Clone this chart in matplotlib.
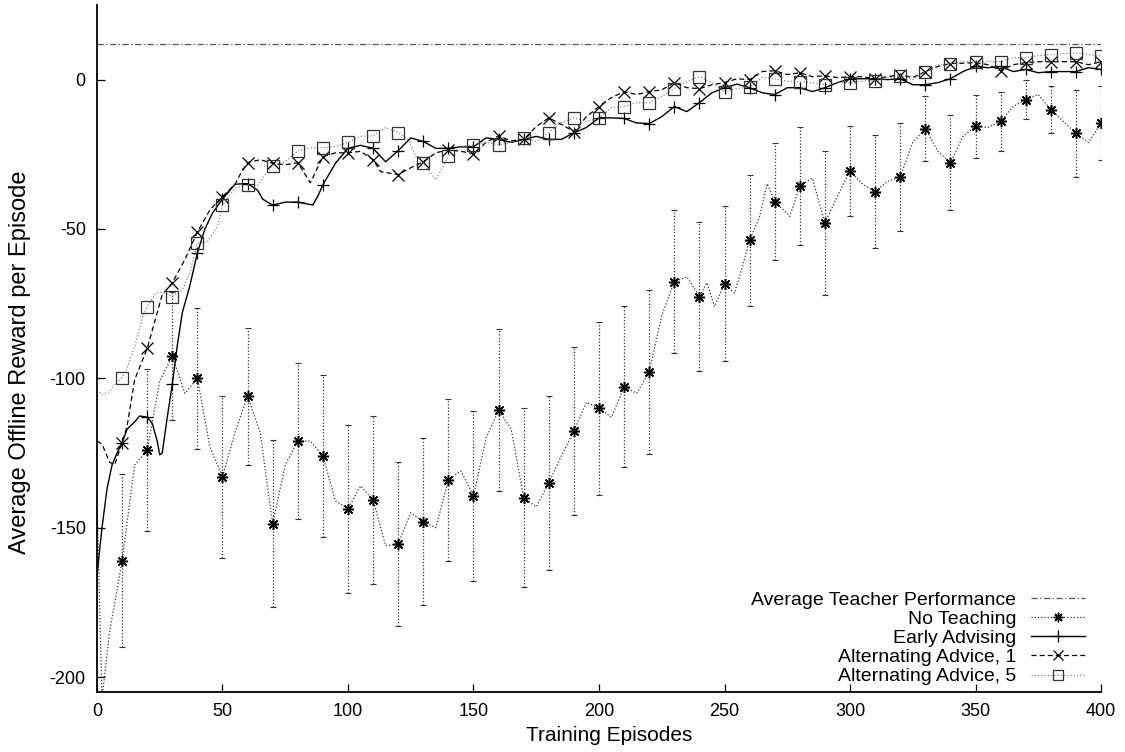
import matplotlib
matplotlib.use("Agg")
import matplotlib.pyplot as plt
import numpy as np

plt.rcParams['font.family'] = ['Liberation Sans', 'DejaVu Sans']
plt.rcParams['axes.unicode_minus'] = False

teacher_level = 12

# No Teaching (mean and std at marker points)
nt_x = [0, 2, 5, 10, 15, 20, 25, 30, 35, 40, 45, 50, 55, 60, 65, 70, 75, 80, 85, 90,
        95, 100, 105, 110, 115, 120, 125, 130, 135, 140, 145, 150, 155, 160, 165, 170,
        175, 180, 185, 190, 195, 200, 205, 210, 215, 220, 225, 230, 235, 240, 243, 246,
        250, 254, 257, 260, 264, 267, 270, 274, 276, 280, 285, 290, 295, 300, 305, 310,
        315, 320, 325, 330, 335, 340, 345, 350, 355, 360, 365, 370, 375, 380, 385, 390,
        395, 400]
nt_y = [-140, -207, -185, -161, -129, -124, -101, -92.5, -105, -100, -123, -133, -118, -106,
        -118, -148.7, -129, -121, -121, -126, -141, -143.7, -136, -140.7, -156, -155.4, -145,
        -148, -150, -134, -131, -139.4, -120, -110.6, -117, -140, -143, -135, -126, -117.6,
        -108, -110, -113, -102.8, -105, -97.8, -79, -67.6, -66, -72.6, -68, -76, -68.3, -71.5,
        -63, -53.8, -45.8, -34.8, -40.8, -44, -45.8, -35.5, -33, -48, -39, -30.5, -35, -37.5,
        -34, -32.6, -21, -16.4, -24, -27.8, -19, -15.6, -16, -14, -9, -6.7, -5, -10, -14, -18,
        -21, -14.5]
nt_err_x = list(range(10, 401, 10))
nt_err = [29, 27, 21.5, 23.5, 27, 23, 28, 26, 27, 28, 28, 27.5, 28, 27, 28.5, 27, 30, 29, 28, 29,
          27, 27.5, 24, 25, 26, 22, 19.5, 19.7, 24, 15, 19, 18, 11, 16, 10.5, 10, 6.5, 8, 14.5, 12.5]

# Early Advising
ea_x = [0, 2, 4, 6, 8, 10, 12, 15, 17, 20, 22, 24, 25, 26, 28, 30, 32, 34, 37, 40, 43, 46, 50,
        55, 60, 64, 66, 70, 75, 80, 86, 88, 90, 95, 100, 105, 110, 115, 120, 125, 130, 135, 140,
        145, 150, 155, 160, 165, 170, 175, 180, 185, 190, 195, 200, 205, 210, 215, 220, 225, 230,
        235, 240, 245, 250, 255, 260, 265, 270, 275, 280, 285, 290, 295, 300, 305, 310, 315, 320,
        325, 330, 335, 340, 345, 350, 355, 360, 365, 370, 375, 380, 385, 390, 395, 400]
ea_y = [-166, -150, -137, -129, -125, -121.6, -117, -114.6, -112.6, -113, -115, -121, -125.6,
        -125, -113, -102, -89, -78, -69, -58, -50, -44.7, -40, -35, -34.8, -37, -40, -42, -41,
        -41, -42, -39, -35.2, -28, -23, -22, -23, -27.5, -23.8, -19.5, -20.7, -23, -23, -22.5,
        -22.5, -19.5, -20, -21, -20, -19, -20, -20, -17.8, -16, -12.8, -12.8, -13, -14.5, -14.7,
        -12.4, -9, -10.7, -7.7, -4.4, -2.7, -1.5, -2.7, -4.4, -5, -2.7, -2.7, -4, -2.7, -1, 0.3,
        0.3, 0.3, 0, 0.3, -1.7, -1.7, -1, 0.3, 2.7, 4.4, 4, 4.4, 2.7, 3.4, 2.3, 2.7, 2.7, 2.7, 4,
        3.4]

# Alternating Advice, 1
a1_x = [0, 2, 5, 7, 10, 12, 15, 20, 24, 26, 30, 35, 40, 45, 50, 55, 57, 60, 65, 70, 75, 80, 85,
        90, 95, 100, 105, 110, 113, 120, 125, 130, 135, 140, 145, 150, 155, 160, 165, 170, 175,
        180, 185, 190, 195, 200, 205, 210, 215, 220, 225, 230, 235, 240, 245, 250, 255, 260, 265,
        270, 275, 280, 285, 290, 295, 300, 305, 310, 315, 320, 325, 330, 335, 340, 345, 350, 355,
        360, 365, 370, 375, 380, 385, 390, 395, 400]
a1_y = [-121, -122, -128, -129, -121.6, -116, -100.5, -90, -78, -72, -68, -60.3, -51, -43.6,
        -39.2, -35, -31.8, -27.8, -26.8, -28, -28.5, -27.8, -34.5, -25.8, -24.5, -24.5, -24,
        -26.8, -30.8, -31.8, -29.5, -27.5, -24.5, -23.5, -24, -24.8, -21, -18.8, -20.5, -20,
        -15.7, -12.8, -15, -17.4, -12.4, -9, -6, -4, -5, -4, -3.4, -1, -2.7, -3, -1.7, -1, 0.3,
        0, 2.7, 3, 1.7, 2.3, 1, 1.3, 0.7, 1, 1, 0.3, 1, 1.7, 0.7, 2.7, 4.4, 5.4, 5.5, 5.7, 5, 3,
        5, 5.7, 6, 6, 6, 6, 5, 6]

# Alternating Advice, 5
a5_x = [0, 2, 5, 7, 10, 12, 15, 18, 20, 23, 25, 27, 30, 34, 37, 40, 44, 48, 50, 55, 60, 64, 67,
        70, 75, 80, 85, 90, 95, 100, 105, 110, 115, 120, 124, 127, 130, 135, 140, 145, 150, 155,
        160, 165, 170, 175, 180, 185, 190, 195, 200, 205, 210, 215, 220, 225, 230, 235, 240, 245,
        250, 255, 260, 265, 270, 275, 280, 285, 290, 295, 300, 305, 310, 315, 320, 325, 330, 335,
        340, 345, 350, 355, 360, 365, 370, 375, 380, 385, 390, 395, 400]
a5_y = [-104, -105.5, -104.5, -102, -99.8, -96.5, -89.4, -80, -76, -72, -71, -71.5, -72.6, -70.4,
        -64.7, -54.7, -54.3, -49.2, -41.9, -36.3, -35.2, -35.5, -31.8, -28.8, -27.5, -23.8,
        -22.8, -22.8, -22.4, -21, -19, -18.8, -16, -17.7, -20, -25.7, -28, -33.5, -25.7, -22.4,
        -21.8, -21, -21.8, -21, -19.4, -20.7, -17.7, -14.4, -12.8, -14, -12.8, -9.4, -9, -7.7,
        -7.7, -5.7, -3, -0.7, 1, -1, -4, -3, -2.4, 0.7, 0.3, -0.5, -0.7, -1, -1.7, -1, -1, -0.5,
        -0.3, 0.5, 1.3, 0, 2.7, 5, 5.4, 6, 6, 6, 6, 7.4, 7.4, 8, 8.4, 8.7, 9, 8.4, 8]


def marks(xs, ys):
    pts = [(x, y) for x, y in zip(xs, ys) if x > 0 and x % 10 == 0]
    return [p[0] for p in pts], [p[1] for p in pts]


fig = plt.figure(figsize=(11.25, 7.52), dpi=100)
ax = fig.add_axes([0.0862, 0.0798, 0.8925, 0.9136])

dot = (0, (1, 1.6))
dash = (0, (4, 2.5))
dashdot = (0, (5, 2, 1, 2))

ax.plot([0, 400], [teacher_level, teacher_level], color='#555555', lw=0.9, ls=dashdot)

# error bars of No Teaching
nt_mx, nt_my = marks(nt_x, nt_y)
ax.errorbar(nt_mx, nt_my, yerr=nt_err, fmt='none', ecolor='#333333', elinewidth=0.9,
            capsize=2, capthick=0.8)
for line in ax.containers[-1].lines[2]:
    line.set_linestyle(dot)

ax.plot(nt_x, nt_y, color='#333333', lw=0.9, ls=dot)
ax.plot(nt_mx, nt_my, ls='none', marker=(8, 2, 0), ms=8, mec='black', mew=1.1)

ea_mx, ea_my = marks(ea_x, ea_y)
ax.plot(ea_x, ea_y, color='black', lw=1.0, ls='-')
ax.plot(ea_mx, ea_my, ls='none', marker='+', ms=9, mec='black', mew=0.9)

a1_mx, a1_my = marks(a1_x, a1_y)
ax.plot(a1_x, a1_y, color='black', lw=0.9, ls=dash)
ax.plot(a1_mx, a1_my, ls='none', marker='x', ms=8, mec='black', mew=0.9)

a5_mx, a5_my = marks(a5_x, a5_y)
ax.plot(a5_x, a5_y, color='#888888', lw=0.9, ls=dot)
ax.plot(a5_mx, a5_my, ls='none', marker='s', ms=8, mfc='none', mec='#333333', mew=0.9)

# legend handles
h_teacher, = ax.plot([], [], color='#555555', lw=0.9, ls=dashdot)
h_nt, = ax.plot([], [], color='#333333', lw=0.9, ls=dot, marker=(8, 2, 0), ms=7,
                mec='black', mew=1.0)
h_ea, = ax.plot([], [], color='black', lw=1.0, marker='+', ms=8, mew=0.9)
h_a1, = ax.plot([], [], color='black', lw=0.9, ls=dash, marker='x', ms=7, mew=0.9)
h_a5, = ax.plot([], [], color='#888888', lw=0.9, ls=dot, marker='s', ms=7, mfc='none',
                mec='#333333', mew=0.9)
ax.legend([h_teacher, h_nt, h_ea, h_a1, h_a5],
          ['Average Teacher Performance', 'No Teaching', 'Early Advising',
           'Alternating Advice, 1', 'Alternating Advice, 5'],
          loc='lower right', bbox_to_anchor=(1.0, -0.013), frameon=False, markerfirst=False,
          alignment='right', fontsize=14, handlelength=2.8, handletextpad=0.75,
          labelspacing=0.08, borderpad=0.3)

ax.set_xlim(0, 400)
ax.set_ylim(-205, 25)
ax.set_xticks(range(0, 401, 50))
ax.set_yticks(range(-200, 1, 50))
ax.tick_params(direction='in', length=6, width=0.9, labelsize=13, pad=8)
ax.spines['top'].set_visible(False)
ax.spines['right'].set_visible(False)
ax.spines['left'].set_linewidth(1.3)
ax.spines['bottom'].set_linewidth(1.3)

ax.set_xlabel('Training Episodes', fontsize=15)
ax.set_ylabel('Average Offline Reward per Episode', fontsize=17)
ax.xaxis.set_label_coords(0.51, -0.05)
ax.yaxis.set_label_coords(-0.066, 0.48)

fig.savefig('out.png', dpi=100)
